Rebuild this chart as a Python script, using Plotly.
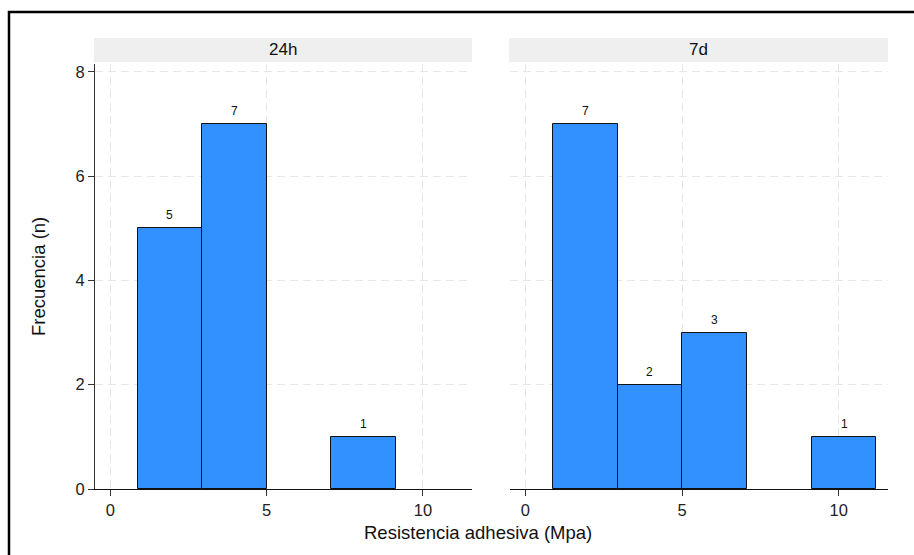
import plotly.graph_objects as go

# Histogram bins (Mpa) shared by both panels
bin_edges = [0.87, 2.94, 5.00, 7.07, 9.14, 11.20]

# Counts per bin for each curing time
panels = ["24h", "7d"]
counts_24h = [5, 7, 0, 1, 0]
counts_7d = [7, 2, 3, 0, 1]

x_ticks = [0, 5, 10]
y_ticks = [0, 2, 4, 6, 8]

x_title = "Resistencia adhesiva (Mpa)"
y_title = "Frecuencia (n)"

W, H = 914, 555
BAR_COLOR = "#3391ff"
GRID = "#e6e6e6"
FONT = "Liberation Sans, Arial, sans-serif"


def px_x(p):
    return p / W


def px_y(p):
    return (H - p) / H


fig = go.Figure()

panel_domains = [(95, 472), (510, 888)]
y_dom = [px_y(489), px_y(64)]

for i, (name, counts) in enumerate(zip(panels, [counts_24h, counts_7d])):
    suffix = "" if i == 0 else str(i + 1)
    xa, ya = "x" + suffix, "y" + suffix

    # only non-empty bins are drawn
    bins = [(a, b, c) for a, b, c in zip(bin_edges[:-1], bin_edges[1:], counts) if c > 0]
    centers = [(a + b) / 2 for a, b, _ in bins]
    widths = [b - a for a, b, _ in bins]
    heights = [c for _, _, c in bins]

    fig.add_trace(go.Bar(
        x=centers,
        y=heights,
        width=widths,
        marker=dict(color=BAR_COLOR, line=dict(color="#111", width=1)),
        xaxis=xa,
        yaxis=ya,
        showlegend=False,
        hoverinfo="x+y",
    ))

    # count labels above bars
    for cx, h in zip(centers, heights):
        fig.add_annotation(text=str(h), x=cx, y=h, xref=xa, yref=ya,
                           showarrow=False, yanchor="middle", yshift=13,
                           font=dict(size=12, color="#111", family=FONT))

    x0, x1 = panel_domains[i]
    axis_common = dict(
        showgrid=True, gridcolor=GRID, gridwidth=1, griddash="8px,5px",
        zeroline=False, automargin=False,
        tickfont=dict(size=16.5, color="#222", family=FONT),
        ticks="outside", ticklen=6, tickcolor="#333", tickwidth=1,
    )
    fig.layout["xaxis" + suffix] = dict(
        axis_common,
        domain=[px_x(x0), px_x(x1)],
        range=[-0.49, 11.57],
        tickvals=x_ticks,
        showline=True, linecolor="#111", linewidth=1,
        anchor=ya,
    )
    fig.layout["yaxis" + suffix] = dict(
        axis_common,
        domain=y_dom,
        range=[0, 8.15],
        tickvals=y_ticks,
        showline=(i == 0), linecolor="#333", linewidth=1,
        showticklabels=(i == 0),
        ticks="outside" if i == 0 else "",
        anchor=xa,
    )

    # facet strip
    fig.add_shape(type="rect", xref="paper", yref="paper",
                  x0=px_x(x0 - 1), x1=px_x(x1), y0=px_y(62), y1=px_y(38),
                  fillcolor="#efefef", line=dict(width=0), layer="below")
    fig.add_annotation(text=name, xref="paper", yref="paper",
                       x=(px_x(x0 - 1) + px_x(x1)) / 2, y=(px_y(62) + px_y(38)) / 2,
                       showarrow=False, xanchor="center", yanchor="middle",
                       font=dict(size=17, color="#111", family=FONT))

# axis titles
fig.add_annotation(text=x_title, xref="paper", yref="paper",
                   x=px_x(478), y=px_y(532), showarrow=False,
                   xanchor="center", yanchor="middle",
                   font=dict(size=18.5, color="#111", family=FONT))
fig.add_annotation(text=y_title, xref="paper", yref="paper",
                   x=px_x(38), y=px_y(277), showarrow=False, textangle=-90,
                   xanchor="center", yanchor="middle",
                   font=dict(size=18.5, color="#111", family=FONT))

# outer frame
fig.add_shape(type="rect", xref="paper", yref="paper",
              x0=px_x(9), x1=1.05, y0=-0.05, y1=px_y(12),
              line=dict(color="#000", width=2.5), fillcolor="rgba(0,0,0,0)")

fig.update_layout(
    width=W, height=H,
    margin=dict(l=0, r=0, t=0, b=0),
    paper_bgcolor="white", plot_bgcolor="white",
    bargap=0,
    font=dict(family=FONT),
)

fig.write_html("out.html")
